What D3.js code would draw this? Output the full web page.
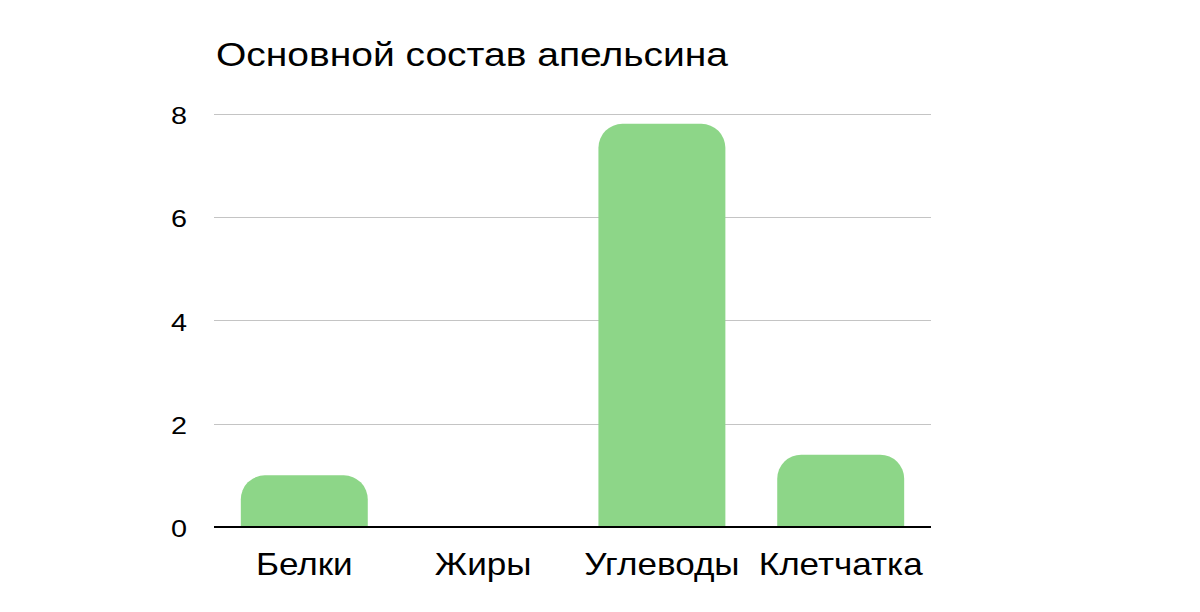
<!DOCTYPE html>
<html><head><meta charset="utf-8">
<script src="https://cdn.jsdelivr.net/npm/d3@7"></script>
<style>body{margin:0;background:#fff;}svg{display:block;font-family:"Liberation Sans",Arial,Helvetica,sans-serif;}</style>
</head><body>
<svg id="c" width="1200" height="612"></svg>
<script>
const categories = ["Белки", "Жиры", "Углеводы", "Клетчатка"];
const values = [1.0, 0.0, 7.8, 1.4];
const yTicks = [0, 2, 4, 6, 8];
const title = "Основной состав апельсина";

(function () {
const svg = d3.select("#c");
const pLeft = 214, pRight = 931, pTop = 113.5, pBottom = 527;
const x = d3.scaleBand().domain(categories).range([pLeft, pRight]).paddingInner(0.29).paddingOuter(0.15);
const y = d3.scaleLinear().domain([0, 8]).range([pBottom, pTop]);

svg.append("text").attr("transform", "translate(216,66) scale(1.2,1)")
  .attr("font-size", 32.5).attr("fill", "#000").text(title);

// grid
svg.append("g").selectAll("line").data(yTicks.filter(d => d > 0)).join("line")
  .attr("x1", pLeft).attr("x2", pRight).attr("y1", d => Math.round(y(d)) + 0.5).attr("y2", d => Math.round(y(d)) + 0.5)
  .attr("stroke", "#c4c4c4").attr("stroke-width", 1);

// y labels
svg.append("g").selectAll("text").data(yTicks).join("text")
  .attr("transform", d => `translate(187,${y(d) + 10.3}) scale(1.2,1)`)
  .attr("text-anchor", "end").attr("font-size", 24).attr("fill", "#000").text(d => d);

// bars with rounded top corners
const r = 24;
function barPath(x0, w, yTop, yBot) {
  const h = yBot - yTop;
  if (h <= 0) return "";
  const rr = Math.min(r, h, w / 2);
  return `M${x0},${yBot} L${x0},${yTop + rr} A${rr},${rr} 0 0 1 ${x0 + rr},${yTop} L${x0 + w - rr},${yTop} A${rr},${rr} 0 0 1 ${x0 + w},${yTop + rr} L${x0 + w},${yBot} Z`;
}
svg.append("g").selectAll("path").data(categories).join("path")
  .attr("d", (c, i) => barPath(x(c), x.bandwidth(), y(values[i]), y(0)))
  .attr("fill", "#8dd688");

// axis baseline
svg.append("line").attr("x1", pLeft).attr("x2", pRight).attr("y1", pBottom).attr("y2", pBottom).attr("stroke", "#000").attr("stroke-width", 2);

// category labels
svg.append("g").selectAll("text").data(categories).join("text")
  .attr("transform", c => `translate(${x(c) + x.bandwidth() / 2},575) scale(1.15,1)`)
  .attr("text-anchor", "middle").attr("font-size", 30.5).attr("fill", "#000").text(c => c);
})();
</script>
</body></html>
